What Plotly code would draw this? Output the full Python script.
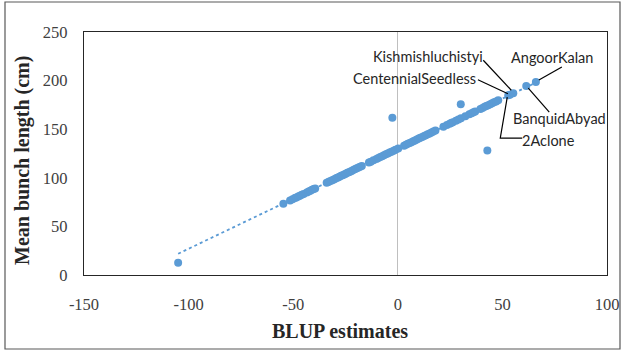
import numpy as np
import plotly.graph_objects as go

# ---- data ----
blup = [
    -105.0, -54.7,
    -51.5, -50.3, -49.2, -48.5, -47.6, -46.8, -45.9, -45.0,
    -43.5, -42.6, -41.8, -41.0, -40.2, -39.5,
    -34.0, -33.2, -32.5, -31.6, -30.8, -30.1, -29.3, -28.6, -27.9, -27.1,
    -26.4, -25.6, -24.9, -24.1, -23.4, -22.6, -21.9, -21.1, -20.3, -19.6,
    -18.8, -18.0, -17.2,
    -13.8, -12.9, -11.6, -10.2, -9.3, -8.4, -7.5, -6.6, -5.7, -4.8, -3.9,
    -3.0, -2.0, -1.1, 0.2,
    3.0, 3.9, 4.8, 5.7, 6.5, 7.4, 8.2, 9.1, 10.0, 10.8, 11.7, 12.6, 13.4,
    14.3, 15.2, 16.1, 17.0, 18.0,
    21.8, 23.5, 24.8, 25.5, 26.3, 27.8, 29.0, 30.2,
    32.3, 34.2, 35.3, 36.2, 37.0,
    39.5, 40.5, 41.5, 42.3, 43.2, 44.2, 45.1, 46.0, 47.0, 48.0,
    -2.6, 30.1, 42.8,
    52.8, 53.6, 55.2, 61.4, 66.0,
]
mean_length = [
    12.6, 73.3,
    76.7, 77.9, 79.1, 79.8, 80.7, 81.6, 82.5, 83.4,
    85.0, 85.9, 86.7, 87.6, 88.4, 89.1,
    94.8, 95.6, 96.4, 97.3, 98.1, 98.8, 99.7, 100.4, 101.1, 102.0,
    102.7, 103.5, 104.2, 105.1, 105.8, 106.6, 107.3, 108.2, 109.0, 109.7,
    110.5, 111.4, 112.2,
    115.7, 116.6, 118.0, 119.4, 120.4, 121.3, 122.2, 123.2, 124.1, 125.0, 126.0,
    126.9, 127.9, 128.9, 130.2,
    133.1, 134.0, 135.0, 135.9, 136.7, 137.7, 138.5, 139.4, 140.4, 141.2, 142.1, 143.0, 143.9,
    144.8, 145.7, 146.7, 147.6, 148.6,
    152.6, 154.3, 155.7, 156.4, 157.2, 158.8, 160.0, 161.3,
    163.4, 165.4, 166.5, 167.5, 168.3,
    170.9, 171.9, 173.0, 173.8, 174.7, 175.7, 176.7, 177.6, 178.6, 179.7,
    161.9, 175.6, 128.2,
    185.0, 185.5, 187.0, 194.4, 198.5,
]
label_names = ["2Aclone", "CentennialSeedless", "Kishmishluchistyi", "BanquidAbyad", "AngoorKalan"]
label_x = [52.8, 53.6, 55.2, 61.4, 66.0]
label_y = [185.0, 185.5, 187.0, 194.4, 198.5]

x_ticks = [-150, -100, -50, 0, 50, 100]
x_tick_text = ["-150", "-100", "-50", "0", "50", "100"]
y_ticks = [0, 50, 100, 150, 200, 250]
y_tick_text = ["0", "50", "100", "150", "200", "250"]

# ---- label placement (screen pixel offsets from the point; y down) ----
label_style = {
    "Kishmishluchistyi": dict(text=(-85, -37), path=[(-30, -33), (-2, -3)]),
    "CentennialSeedless": dict(text=(-95, -16), path=[(-32, -15), (-2, -1)]),
    "AngoorKalan": dict(text=(16, -25), path=[(26, -15), (3, -2)]),
    "BanquidAbyad": dict(text=(33, 32), path=[(23, 26), (2, 2)]),
    "2Aclone": dict(text=(40, 45), path=[(14, 43), (-8, 43), (-1, 2)]),
}

BLUE = "#5B9BD5"
TXT = "#404040"

fig = go.Figure()

# trendline from a linear fit of the data
slope, icpt = np.polyfit(np.array(blup), np.array(mean_length), 1)
tx = np.array([min(blup), max(blup)])
fig.add_trace(go.Scatter(x=tx, y=icpt + slope * tx, mode="lines",
                         line=dict(color=BLUE, width=1.8, dash="dot"),
                         hoverinfo="skip", showlegend=False))

fig.add_trace(go.Scatter(x=blup, y=mean_length, mode="markers",
                         marker=dict(color=BLUE, size=8, line=dict(width=0)),
                         showlegend=False))

annotations = []
shapes = []
for name, lx, ly in zip(label_names, label_x, label_y):
    st = label_style[name]
    dx, dy = st["text"]
    annotations.append(dict(x=lx, y=ly, xref="x", yref="y", text=name,
                            showarrow=False, xshift=dx, yshift=-dy,
                            xanchor="center", yanchor="middle",
                            font=dict(family="Lato", size=14.5, color="#262626")))
    pts = st["path"]
    path = "M" + " L".join(f"{px},{-py}" for px, py in pts)
    shapes.append(dict(type="path", xref="x", yref="y",
                       xsizemode="pixel", ysizemode="pixel",
                       xanchor=lx, yanchor=ly, path=path,
                       line=dict(color="#000000", width=1.2)))

# outer chart border
shapes.append(dict(type="rect", xref="paper", yref="paper",
                   x0=(5 - 84) / 523, x1=(620 - 84) / 523,
                   y0=(275 - 349) / 243, y1=(275 - 2) / 243,
                   line=dict(color="#595959", width=1.2), fillcolor="rgba(0,0,0,0)",
                   layer="below"))

# axis titles
annotations.append(dict(x=(340 - 84) / 523, y=(275 - 331) / 243, xref="paper", yref="paper",
                        text="<b>BLUP estimates</b>", showarrow=False,
                        xanchor="center", yanchor="middle",
                        font=dict(family="Liberation Serif", size=20, color="#262626")))
annotations.append(dict(x=(22 - 84) / 523, y=(275 - 161) / 243, xref="paper", yref="paper",
                        text="<b>Mean bunch length (cm)</b>", showarrow=False, textangle=-90,
                        xanchor="center", yanchor="middle",
                        font=dict(family="Liberation Serif", size=20, color="#262626")))

fig.update_layout(
    width=624, height=351,
    margin=dict(l=84, r=17, t=32, b=76, autoexpand=False),
    paper_bgcolor="white", plot_bgcolor="white",
    annotations=annotations, shapes=shapes,
    font=dict(family="Liberation Serif", size=16.5, color=TXT),
)
fig.update_xaxes(range=[-150, 100], tickvals=x_ticks, ticktext=x_tick_text,
                 showgrid=False, automargin=False,
                 zeroline=True, zerolinecolor="#BFBFBF", zerolinewidth=1,
                 showline=True, mirror=True, linecolor="#262626", linewidth=1.2,
                 ticks="", ticklabelstandoff=14,
                 tickfont=dict(family="Liberation Serif", size=16.5, color=TXT))
fig.update_yaxes(range=[0, 250], tickvals=y_ticks, ticktext=y_tick_text,
                 showgrid=False, zeroline=False, automargin=False,
                 showline=True, mirror=True, linecolor="#262626", linewidth=1.2,
                 ticks="", ticklabelstandoff=12,
                 tickfont=dict(family="Liberation Serif", size=16.5, color=TXT))

fig.write_html("out.html")
